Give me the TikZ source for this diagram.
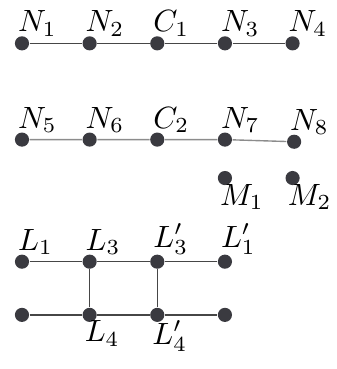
\documentclass[tikz,border=0pt]{standalone}
\usepackage{tikz}
\usetikzlibrary{positioning}
\definecolor{dotgray}{RGB}{58, 58, 64}
\definecolor{linegray}{RGB}{70, 70, 70}
\definecolor{lightline}{RGB}{140, 140, 140}

\begin{document}
\begin{tikzpicture}[
    node distance=22pt and 22pt, on grid,
    dot/.style={circle, fill=dotgray, inner sep=0pt, minimum size=4.6pt},
    toplab/.style={anchor=south west, inner sep=0.3pt},
    botlab/.style={anchor=north west, inner sep=0pt},
    edge/.style={draw=linegray, line width=0.45pt},
    softedge/.style={draw=lightline, line width=0.45pt}
]
    \useasboundingbox (-7.15pt,14.1pt) rectangle (102.4pt,-105.9pt);

    % first chain
    \node[dot, label={[toplab]north west:$N_1$}] (n1) at (0,0) {};
    \node[dot, right=of n1, label={[toplab]north west:$N_2$}] (n2) {};
    \node[dot, right=of n2, label={[toplab]north west:$C_1$}] (c1) {};
    \node[dot, right=of c1, label={[toplab]north west:$N_3$}] (n3) {};
    \node[dot, right=of n3, label={[toplab]north west:$N_4$}] (n4) {};

    % second chain
    \node[dot, below=31.3pt of n1, label={[toplab]north west:$N_5$}] (n5) {};
    \node[dot, right=of n5, label={[toplab]north west:$N_6$}] (n6) {};
    \node[dot, right=of n6, label={[toplab]north west:$C_2$}] (c2) {};
    \node[dot, right=of c2, label={[toplab]north west:$N_7$}] (n7) {};
    \node[dot, right=22.5pt of n7, yshift=-0.7pt, label={[toplab]north west:$N_8$}] (n8) {};

    \node[dot, below=12.5pt of n7, label={[botlab]south west:$M_1$}] (m1) {};
    \node[dot, right=of m1, label={[botlab]south west:$M_2$}] (m2) {};

    % ladder
    \node[dot, below=39.7pt of n5, label={[toplab]north west:$L_1$}] (l1) {};
    \node[dot, right=of l1, label={[toplab]north west:$L_3$}] (l3) {};
    \node[dot, right=of l3, label={[toplab]north west:$L_3'$}] (l3p) {};
    \node[dot, right=of l3p, label={[toplab]north west:$L_1'$}] (l1p) {};

    \node[dot, below=17.3pt of l1] (lb1) {};
    \node[dot, right=of lb1, label={[botlab]south west:$L_4$}] (l4) {};
    \node[dot, right=of l4, label={[botlab]south west:$L_4'$}] (l4p) {};
    \node[dot, right=of l4p] (lb4) {};

    \draw[edge] (n1) -- (n2) -- (c1) -- (n3) -- (n4);
    \draw[softedge] (n5) -- (n6) -- (c2) -- (n7) -- (n8);
    \draw[edge] (l1) -- (l3) -- (l3p) -- (l1p);
    \draw[edge] (lb1) -- (l4) -- (l4p) -- (lb4);
    \draw[edge] (l3) -- (l4);
    \draw[edge] (l3p) -- (l4p);
\end{tikzpicture}
\end{document}
